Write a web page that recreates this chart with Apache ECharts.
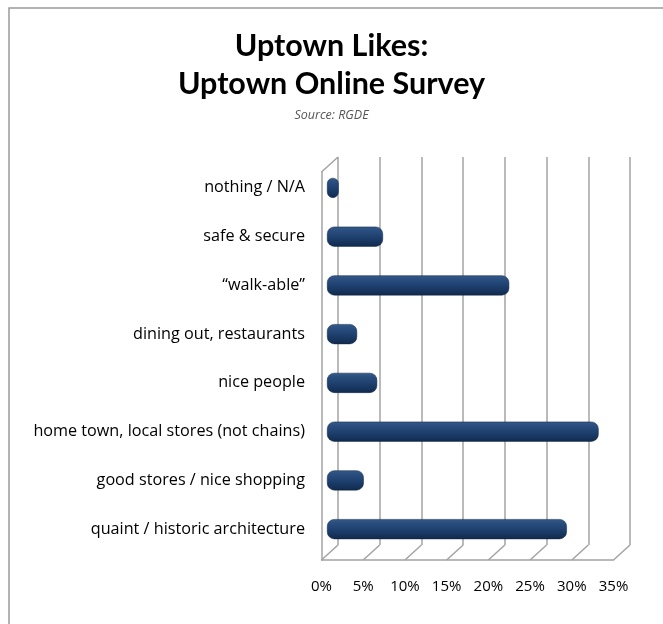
<!DOCTYPE html>
<html>
<head>
<meta charset="utf-8">
<script src="https://cdn.jsdelivr.net/npm/echarts@6/dist/echarts.min.js"></script>
<style>
html,body{margin:0;padding:0;background:#fff;}
#chart{width:663px;height:624px;}
</style>
</head>
<body>
<div id="chart"></div>
<script>
// ---- data ----
var categories = [
  'nothing / N/A',
  'safe & secure',
  '\u201Cwalk-able\u201D',
  'dining out, restaurants',
  'nice people',
  'home town, local stores (not chains)',
  'good stores / nice shopping',
  'quaint / historic architecture'
];
var values = [1.4, 6.7, 21.8, 3.6, 6.0, 32.5, 4.4, 28.7];
var tickValues = [0, 5, 10, 15, 20, 25, 30, 35];
var tickLabels = ['0%', '5%', '10%', '15%', '20%', '25%', '30%', '35%'];

// ---- style constants ----
var GRID_COLOR = '#a3a3a3';
var DEPTH_DX = -16.5, DEPTH_DY = 15;
var TITLE_FONT = 'Lato';
var FONT = '"Open Sans"';

var chart = echarts.init(document.getElementById('chart'));

var barGradient = new echarts.graphic.LinearGradient(0, 0, 0, 1, [
  {offset: 0, color: '#345a8a'},
  {offset: 0.18, color: '#2a4f80'},
  {offset: 0.55, color: '#1d3f6d'},
  {offset: 1, color: '#112a4d'}
]);

var option = {
  backgroundColor: '#ffffff',
  animation: false,
  title: {
    text: 'Uptown Likes:\nUptown Online Survey',
    subtext: 'Source: RGDE',
    left: 'center',
    top: 22,
    itemGap: 5,
    textStyle: {
      fontFamily: TITLE_FONT, fontSize: 30.5, fontWeight: 'bold', color: '#000', lineHeight: 38
    },
    subtextStyle: {
      fontFamily: FONT, fontSize: 12.5, fontStyle: 'italic', color: '#555', lineHeight: 14
    }
  },
  graphic: [{
    type: 'rect',
    shape: {x: 9, y: 8, width: 700, height: 700},
    style: {fill: 'none', stroke: '#9a9a9a', lineWidth: 1.5},
    silent: true
  }],
  grid: [
    // back wall
    {left: 338, right: 33, top: 157, bottom: 79},
    // bars
    {left: 327, right: 43.5, top: 163.5, bottom: 70.5},
    // front plane
    {left: 321.5, right: 49.5, top: 172, bottom: 64}
  ],
  xAxis: [
    {
      gridIndex: 0, type: 'value', min: 0, max: 35, interval: 5,
      axisLine: {show: false}, axisTick: {show: false}, axisLabel: {show: false},
      splitLine: {show: true, lineStyle: {color: GRID_COLOR, width: 1.5}}
    },
    {
      gridIndex: 1, type: 'value', min: 0, max: 35, interval: 5,
      axisLine: {show: false}, axisTick: {show: false}, axisLabel: {show: false},
      splitLine: {show: false}
    },
    {
      gridIndex: 2, type: 'value', min: 0, max: 35, interval: 5,
      axisLine: {show: true, lineStyle: {color: GRID_COLOR, width: 1.5}},
      axisTick: {show: false},
      splitLine: {show: false},
      axisLabel: {
        show: true, margin: 19, color: '#000', fontFamily: FONT, fontSize: 15,
        formatter: function (v) { var i = tickValues.indexOf(v); return i >= 0 ? tickLabels[i] : ''; }
      }
    }
  ],
  yAxis: [
    {
      gridIndex: 0, type: 'value', min: 0, max: 1,
      axisLine: {show: false}, axisTick: {show: false}, axisLabel: {show: false}, splitLine: {show: false}
    },
    {
      gridIndex: 1, type: 'category', data: categories, inverse: true,
      axisLine: {show: false}, axisTick: {show: false}, splitLine: {show: false},
      axisLabel: {
        show: true, margin: 22, color: '#000', fontFamily: FONT, fontSize: 16.2, interval: 0
      }
    },
    {
      gridIndex: 2, type: 'value', min: 0, max: 1,
      axisLine: {show: true, lineStyle: {color: GRID_COLOR, width: 1.5}},
      axisTick: {show: false}, axisLabel: {show: false}, splitLine: {show: false}
    }
  ],
  series: [
    {
      // depth (floor / wall) edges drawn through the back-wall axes
      type: 'custom',
      xAxisIndex: 0, yAxisIndex: 0,
      silent: true,
      z: 1,
      data: tickValues,
      renderItem: function (params, api) {
        var v = api.value(0);
        var p = api.coord([v, 0]);
        var children = [{
          type: 'line',
          shape: {x1: p[0], y1: p[1], x2: p[0] + DEPTH_DX, y2: p[1] + DEPTH_DY},
          style: {stroke: GRID_COLOR, lineWidth: 1.5}
        }];
        if (v === 0) {
          var t = api.coord([0, 1]);
          children.push({
            type: 'line',
            shape: {x1: t[0], y1: t[1], x2: t[0] + DEPTH_DX, y2: t[1] + DEPTH_DY},
            style: {stroke: GRID_COLOR, lineWidth: 1.5}
          });
        }
        return {type: 'group', children: children};
      }
    },
    {
      type: 'bar',
      xAxisIndex: 1, yAxisIndex: 1,
      data: values,
      barWidth: 20,
      z: 5,
      itemStyle: {
        color: barGradient,
        borderRadius: 7,
        borderColor: '#0f2443',
        borderWidth: 0.5
      }
    }
  ]
};
chart.setOption(option);
</script>
</body>
</html>
